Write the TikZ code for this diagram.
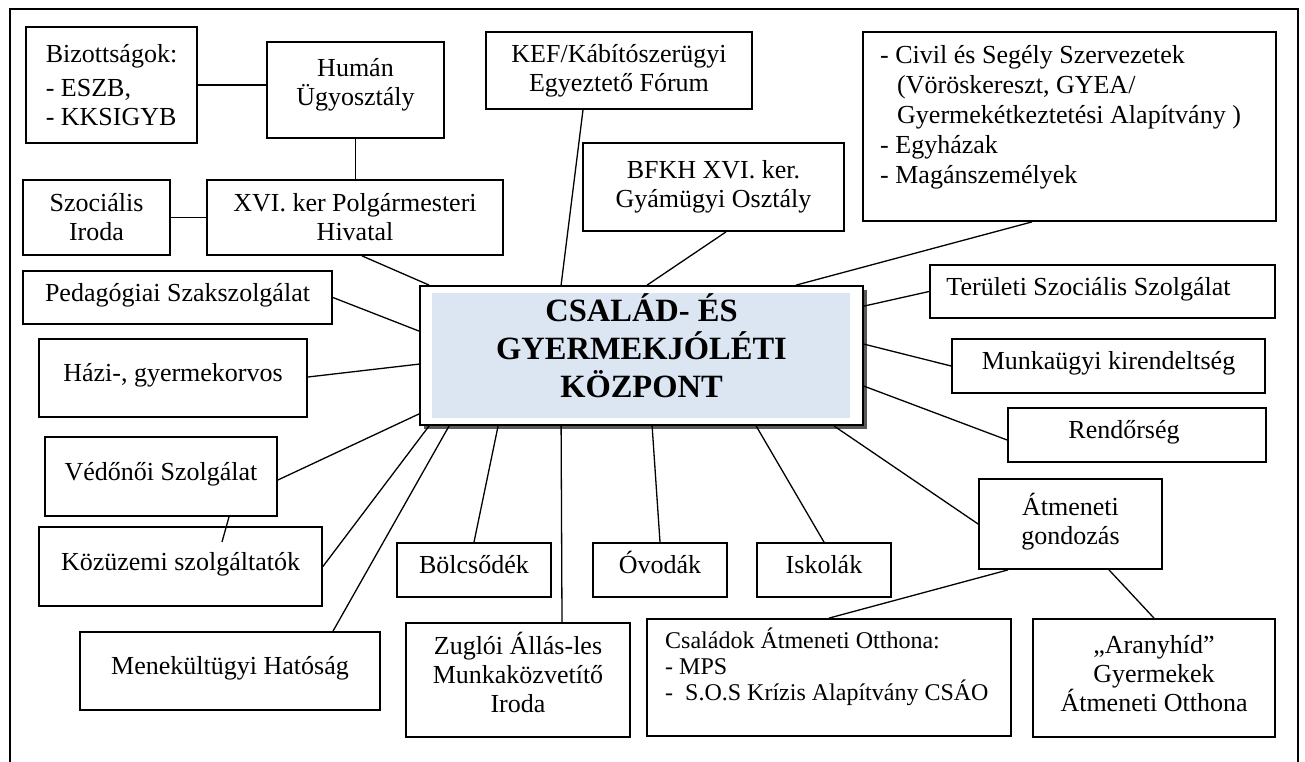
\documentclass[tikz,border=0pt]{standalone}
\usepackage{fontspec}
\setmainfont{Liberation Serif}[BoldFont={Liberation Serif Bold}]
\usetikzlibrary{shadows}
\definecolor{ctrblue}{RGB}{220,230,242}
\newcommand\bodyfs{\fontsize{26}{29}\selectfont}
\begin{document}
\begin{tikzpicture}[x=1pt,y=-1pt,
  box/.style={draw, line width=1.8pt, inner sep=0pt, align=center, font=\bodyfs, fill=white},
  one/.style={box, text height=16pt, text depth=9pt},
  conn/.style={line width=1.3pt}]
\useasboundingbox (0,0) rectangle (1305,762);
\fill[white] (0,0) rectangle (1305,762);
\draw[line width=1.8pt] (10,762) -- (10,9) -- (1298,9) -- (1298,762);

% centre
\node[draw, line width=1.8pt, fill=white, minimum width=443pt, minimum height=139pt, inner sep=0pt,
  drop shadow={shadow xshift=3.5pt,shadow yshift=-3.5pt,fill=black!65,opacity=1}] (c) at (641.5,355.5) {};
\fill[ctrblue] ([shift={(13pt,-8pt)}]c.north west) rectangle ([shift={(-14pt,8pt)}]c.south east);
\node[font=\fontsize{32.5}{38}\selectfont\bfseries, align=center] (ct) at (641.5,346) {CSALÁD- ÉS\\GYERMEKJÓLÉTI\\KÖZPONT};

% boxes
\node[box, align=left, minimum width=171pt, minimum height=116pt] (biz) at (111.5,85) {Bizottságok:\\[5pt]- ESZB,\\- KKSIGYB};
\node[box, minimum width=177pt, minimum height=96pt] (hum) at (355.5,90) {Humán\\Ügyosztály\\[-13pt]\mbox{}};
\node[box, minimum width=147pt, minimum height=75pt] (soc) at (96.5,217.5) {Szociális\\Iroda};
\node[box, minimum width=296pt, minimum height=75pt] (xvi) at (355,217.5) {XVI. ker Polgármesteri\\Hivatal};
\node[box, minimum width=266pt, minimum height=77pt] (kef) at (619,70.5) {KEF/Kábítószerügyi\\Egyeztető Fórum};
\node[box, minimum width=261pt, minimum height=88pt] (bfkh) at (713.5,187) {BFKH XVI. ker.\\Gyámügyi Osztály};
\node[box, minimum width=413pt, minimum height=189pt] (civ) at (1069.5,126.5) {};
\node[font=\fontsize{26}{30}\selectfont, align=left, anchor=north west, inner sep=0pt] (civt) at (880,45)
  {- Civil és Segély Szervezetek\\\hspace*{17pt}(Vöröskereszt, GYEA/\\\hspace*{17pt}Gyermekétkeztetési Alapítvány )\\- Egyházak\\- Magánszemélyek};
\node[one, minimum width=345pt, minimum height=53pt] (ter) at (1102.5,291.5) {Területi Szociális Szolgálat\hspace*{28pt}};
\node[one, minimum width=313pt, minimum height=54pt] (mun) at (1108.5,366) {Munkaügyi kirendeltség};
\node[one, minimum width=258pt, minimum height=54pt] (ren) at (1137,435) {Rendőrség\hspace*{26pt}};
\node[box, minimum width=183pt, minimum height=90pt] (atm) at (1070.5,524) {Átmeneti\\gondozás\\[-19pt]\mbox{}};
\node[box, minimum width=242pt, minimum height=118pt] (ara) at (1154,678) {„Aranyhíd”\\Gyermekek\\Átmeneti Otthona\\[-19pt]\mbox{}};
\node[box, minimum width=364pt, minimum height=117pt] (csa) at (829,677.5) {};
\node[font=\fontsize{24}{26}\selectfont, align=left, anchor=north west, inner sep=0pt] (csat) at (665,628)
  {Családok Átmeneti Otthona:\\- MPS\\-\ \ S.O.S Krízis Alapítvány CSÁO};
\node[one, minimum width=134pt, minimum height=54pt] (isk) at (824,570) {Iskolák};
\node[one, minimum width=134pt, minimum height=54pt] (ovo) at (660,570) {Óvodák};
\node[one, minimum width=154pt, minimum height=54pt] (bol) at (474,570) {Bölcsődék};
\node[box, minimum width=224pt, minimum height=114pt] (zug) at (518,680) {Zuglói Állás-les\\Munkaközvetítő\\Iroda\\[-13pt]\mbox{}};
\node[one, minimum width=300pt, minimum height=78pt] (men) at (230,671) {Menekültügyi Hatóság};
\node[one, minimum width=283pt, minimum height=79pt] (koz) at (180.5,566.5) {Közüzemi szolgáltatók};
\node[one, minimum width=232pt, minimum height=79pt] (ved) at (161,476.5) {Védőnői Szolgálat};
\node[one, minimum width=268pt, minimum height=78pt] (haz) at (173,378) {Házi-, gyermekorvos};
\node[one, minimum width=309pt, minimum height=53pt] (ped) at (177.5,297.5) {Pedagógiai Szakszolgálat};
\coordinate (vk) at (222,542);

% connectors
\begin{scope}[conn]
\draw (biz.east) -- (biz.east -| hum.west);
\draw (hum.south) -- (hum.south |- xvi.north);
\draw (soc.east) -- (xvi.west);
\draw ([xshift=7pt]xvi.south) -- ([xshift=10pt]c.north west);
\draw ([xshift=-36pt]kef.south) -- ([xshift=142pt]c.north west);
\draw ([xshift=12.5pt]bfkh.south) -- ([xshift=228pt]c.north west);
\draw ([xshift=-37.5pt]civ.south) -- ([xshift=377pt]c.north west);
\draw (ter.west) -- ([yshift=-21pt]c.north east);
\draw (mun.west) -- ([yshift=-59pt]c.north east);
\draw ([yshift=-5pt]ren.west) -- ([yshift=-101pt]c.north east);
\draw (atm.west) -- ([xshift=-30pt]c.south east);
\draw (isk.north) -- ([xshift=337pt]c.south west);
\draw (ovo.north) -- ([xshift=233pt]c.south west);
\draw (bol.north) -- ([xshift=79pt]c.south west);
\draw ([xshift=44pt]zug.north) -- ([xshift=142pt]c.south west);
\draw ([xshift=103pt]men.north) -- ([xshift=30pt]c.south west);
\draw (koz.east) -- ([xshift=10pt]c.south west);
\draw ([yshift=-3.5pt]ved.east) -- ([yshift=12pt]c.south west);
\draw ([yshift=1pt]haz.east) -- ([yshift=-79pt]c.north west);
\draw (ped.east) -- ([yshift=-46pt]c.north west);
\draw ([xshift=68pt]ved.south) -- (vk);
\draw ([xshift=-62.5pt]atm.south) -- (csa.north);
\draw ([xshift=38.5pt]atm.south) -- (ara.north);
\end{scope}
\end{tikzpicture}
\end{document}
